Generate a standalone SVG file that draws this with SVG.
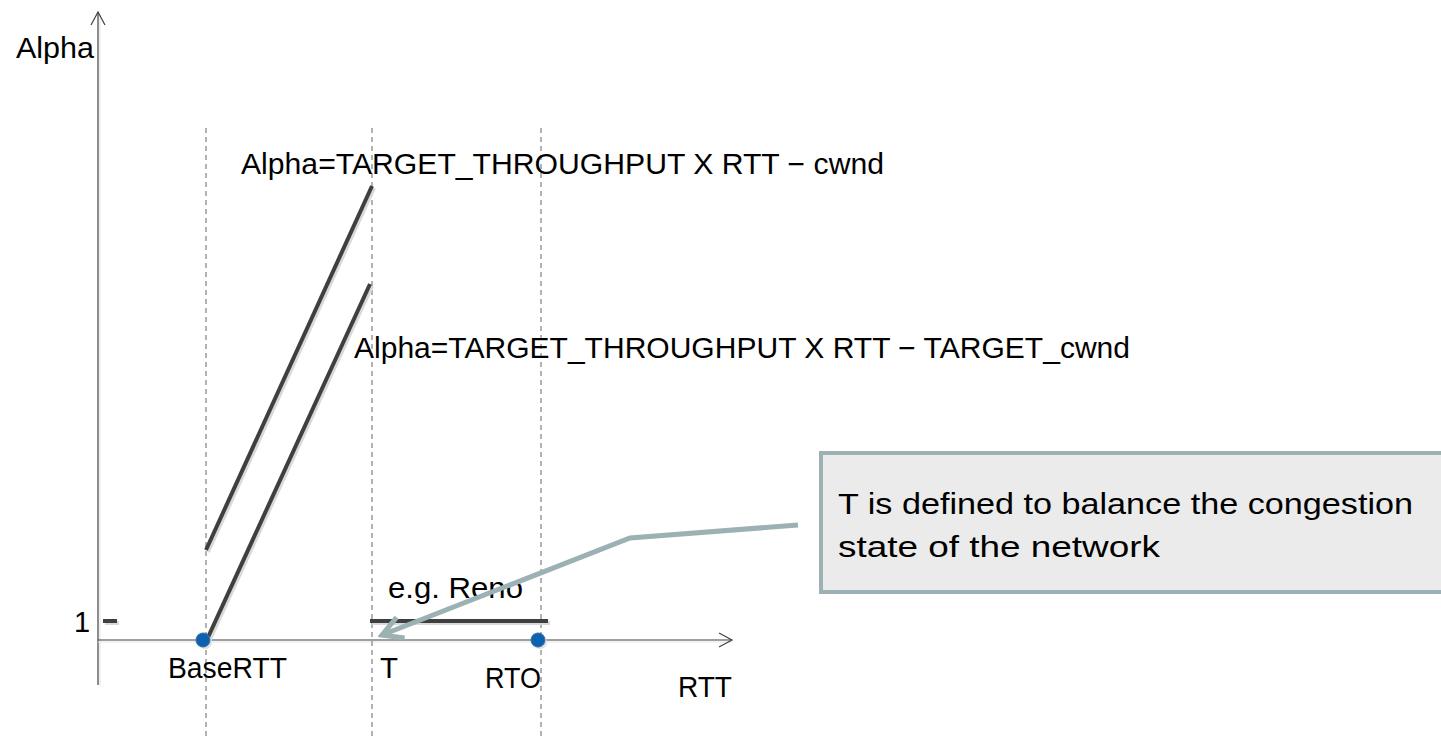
<svg xmlns="http://www.w3.org/2000/svg" width="1441" height="740" viewBox="0 0 1441 740">
<style>
text{font-family:"Liberation Sans",Arial,sans-serif;font-size:29px;fill:#000}
.axis{stroke:#404040;stroke-width:1.2;fill:none}
.dash{stroke:#808080;stroke-width:1.2;stroke-dasharray:5,4;fill:none}
.curve{stroke:#3f3f3f;stroke-width:4;fill:none}
.shadow{stroke:#d9d9d9;stroke-width:4;fill:none}
.dot{fill:#0b62b0;stroke:#3a6ea5;stroke-width:1}
</style>
<defs>
<marker id="openArrow" markerWidth="16" markerHeight="16" refX="14" refY="8" orient="auto" markerUnits="userSpaceOnUse">
<path d="M1,1 L14,8 L1,15" fill="none" stroke="#404040" stroke-width="1.2"/>
</marker>
<marker id="calloutArrow" markerWidth="30" markerHeight="30" refX="26" refY="15" orient="auto" markerUnits="userSpaceOnUse">
<path d="M6,4 L26,15 L6,26" fill="none" stroke="#9bb1b4" stroke-width="5"/>
</marker>
</defs>
<g id="axes">
<line x1="100" y1="686" x2="100" y2="14" stroke="#e6e6e6" stroke-width="1.2"/>
<line x1="98" y1="685" x2="98" y2="12" class="axis" marker-end="url(#openArrow)"/>
<line x1="98" y1="642" x2="732" y2="642" stroke="#e6e6e6" stroke-width="1.2"/>
<line x1="98" y1="640" x2="732" y2="640" class="axis" marker-end="url(#openArrow)"/>
</g>
<g id="guides">
<line x1="206" y1="128" x2="206" y2="740" class="dash"/>
<line x1="372" y1="128" x2="372" y2="740" class="dash"/>
<line x1="541" y1="128" x2="541" y2="740" class="dash"/>
</g>
<g id="tick-1">
<line x1="105" y1="623" x2="119" y2="623" class="shadow"/>
<line x1="103" y1="621" x2="117" y2="621" class="curve"/>
<text x="74" y="632">1</text>
</g>
<g id="curve-cwnd">
<line x1="208" y1="552" x2="374" y2="188" class="shadow"/>
<line x1="206" y1="550" x2="372" y2="186" class="curve"/>
<text x="241" y="174" textLength="643" lengthAdjust="spacingAndGlyphs">Alpha=TARGET_THROUGHPUT X RTT − cwnd</text>
</g>
<g id="curve-target-cwnd">
<line x1="206" y1="648" x2="372" y2="286" class="shadow"/>
<line x1="204" y1="646" x2="370" y2="284" class="curve"/>
<text x="354" y="358" textLength="776" lengthAdjust="spacingAndGlyphs">Alpha=TARGET_THROUGHPUT X RTT − TARGET_cwnd</text>
</g>
<g id="reno">
<line x1="372" y1="623" x2="550" y2="623" class="shadow"/>
<line x1="370" y1="621" x2="548" y2="621" class="curve"/>
<text x="388" y="598" textLength="135" lengthAdjust="spacingAndGlyphs">e.g. Reno</text>
</g>
<g id="baseRTT">
<circle cx="205" cy="642" r="7" fill="#e0e0e0"/>
<circle cx="203" cy="640" r="7" class="dot"/>
<text x="168" y="678" textLength="119" lengthAdjust="spacingAndGlyphs">BaseRTT</text>
</g>
<g id="T">
<text x="380" y="678" textLength="18" lengthAdjust="spacingAndGlyphs">T</text>
</g>
<g id="RTO">
<circle cx="540" cy="642" r="7" fill="#e0e0e0"/>
<circle cx="538" cy="640" r="7" class="dot"/>
<text x="485" y="688" textLength="56" lengthAdjust="spacingAndGlyphs">RTO</text>
</g>
<g id="axis-labels">
<text x="16" y="58" textLength="78" lengthAdjust="spacingAndGlyphs">Alpha</text>
<text x="678" y="697" textLength="54" lengthAdjust="spacingAndGlyphs">RTT</text>
</g>
<g id="note">
<rect x="821" y="453" width="622" height="139" fill="#ebebeb" stroke="#9bb1b4" stroke-width="4"/>
<text x="838" y="514" textLength="575" lengthAdjust="spacingAndGlyphs">T is defined to balance the congestion</text>
<text x="838" y="557" textLength="322" lengthAdjust="spacingAndGlyphs">state of the network</text>
</g>
<g id="connectors">
<polyline points="798,525 630,538 382,635" fill="none" stroke="#9bb1b4" stroke-width="5" marker-end="url(#calloutArrow)"/>
</g>
</svg>
